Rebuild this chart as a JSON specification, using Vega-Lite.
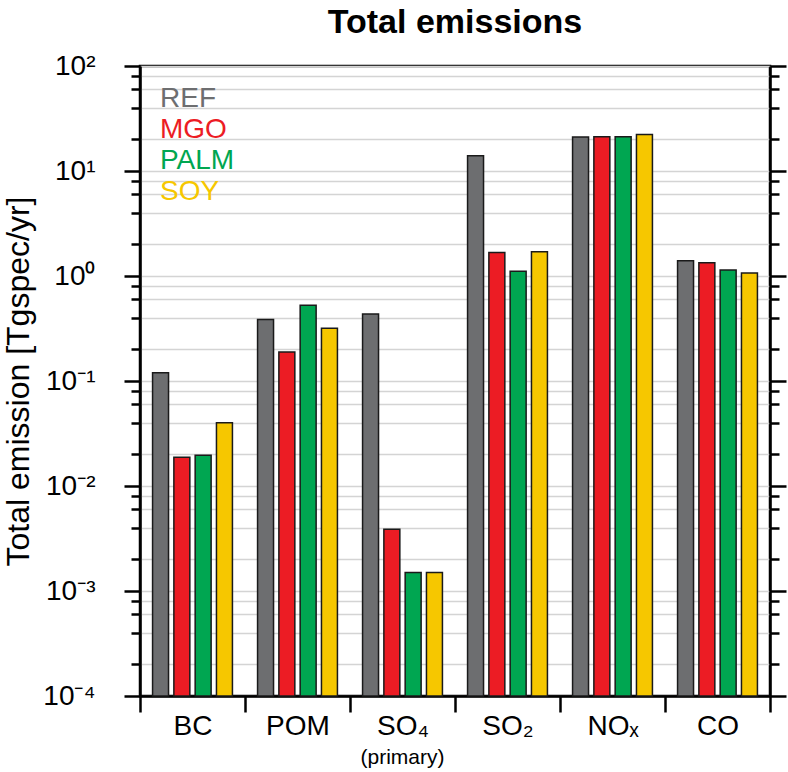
{
  "$schema": "https://vega.github.io/schema/vega-lite/v6.json",
  "width": 630,
  "height": 630,
  "autosize": {"type": "none"},
  "padding": {"left": 140, "top": 66, "right": 18, "bottom": 76},
  "background": "white",
  "config": {
    "font": "Liberation Sans",
    "view": {"stroke": "black", "strokeWidth": 2.5}
  },
  "title": {
    "text": "Total emissions",
    "fontSize": 34,
    "fontWeight": "bold",
    "color": "black",
    "baseline": "alphabetic",
    "offset": -15,
    "frame": "group"
  },
  "data": {
    "values": [
      {"species": "BC", "scenario": "REF", "value": 0.12},
      {"species": "BC", "scenario": "MGO", "value": 0.0188},
      {"species": "BC", "scenario": "PALM", "value": 0.0196},
      {"species": "BC", "scenario": "SOY", "value": 0.040},
      {"species": "POM", "scenario": "REF", "value": 0.386},
      {"species": "POM", "scenario": "MGO", "value": 0.189},
      {"species": "POM", "scenario": "PALM", "value": 0.526},
      {"species": "POM", "scenario": "SOY", "value": 0.318},
      {"species": "SO₄", "scenario": "REF", "value": 0.435},
      {"species": "SO₄", "scenario": "MGO", "value": 0.00387},
      {"species": "SO₄", "scenario": "PALM", "value": 0.0015},
      {"species": "SO₄", "scenario": "SOY", "value": 0.0015},
      {"species": "SO₂", "scenario": "REF", "value": 14.0},
      {"species": "SO₂", "scenario": "MGO", "value": 1.67},
      {"species": "SO₂", "scenario": "PALM", "value": 1.11},
      {"species": "SO₂", "scenario": "SOY", "value": 1.70},
      {"species": "NOₓ", "scenario": "REF", "value": 21.1},
      {"species": "NOₓ", "scenario": "MGO", "value": 21.2},
      {"species": "NOₓ", "scenario": "PALM", "value": 21.2},
      {"species": "NOₓ", "scenario": "SOY", "value": 22.3},
      {"species": "CO", "scenario": "REF", "value": 1.40},
      {"species": "CO", "scenario": "MGO", "value": 1.34},
      {"species": "CO", "scenario": "PALM", "value": 1.14},
      {"species": "CO", "scenario": "SOY", "value": 1.07}
    ]
  },
  "layer": [
    {
      "mark": {"type": "bar", "stroke": "#1a1a1a", "strokeWidth": 1.5},
      "encoding": {
        "x": {
          "field": "species",
          "type": "nominal",
          "sort": ["BC", "POM", "SO₄", "SO₂", "NOₓ", "CO"],
          "scale": {"paddingInner": 0, "paddingOuter": 0},
          "axis": {
            "title": null,
            "labelAngle": 0,
            "labelFontSize": 28,
            "labelColor": "black",
            "labelPadding": 0,
            "tickBand": "extent",
            "tickSize": 16,
            "tickWidth": 2.5,
            "tickColor": "black",
            "domainColor": "black",
            "domainWidth": 2.5,
            "grid": false
          }
        },
        "xOffset": {
          "field": "scenario",
          "type": "nominal",
          "sort": ["REF", "MGO", "PALM", "SOY"],
          "scale": {"paddingInner": 0.25, "paddingOuter": 0.59}
        },
        "color": {
          "field": "scenario",
          "type": "nominal",
          "sort": ["REF", "MGO", "PALM", "SOY"],
          "scale": {
            "domain": ["REF", "MGO", "PALM", "SOY"],
            "range": ["#6d6e70", "#ec1c24", "#00a651", "#f6c700"]
          },
          "legend": {
            "title": null,
            "orient": "none",
            "legendX": -8,
            "legendY": 19,
            "symbolSize": 0,
            "symbolStrokeWidth": 0,
            "symbolOpacity": 0,
            "labelOffset": 0,
            "labelFontSize": 28,
            "rowPadding": 3,
            "encoding": {
              "labels": {
                "fill": {"value": {"expr": "scale('color', datum.value)"}}
              }
            }
          }
        },
        "y": {
          "field": "value",
          "type": "quantitative",
          "scale": {"type": "log", "domain": [0.0001, 100], "nice": false},
          "axis": {
            "title": "Total emission [Tgspec/yr]",
            "titleFontSize": 32,
            "titleFontWeight": "normal",
            "titleColor": "black",
            "titleBaseline": "alphabetic",
            "titleX": -112,
            "values": [0.0001, 0.0002, 0.0004, 0.0006, 0.0008, 0.001, 0.002, 0.004, 0.006, 0.008, 0.01, 0.02, 0.04, 0.06, 0.08, 0.1, 0.2, 0.4, 0.6, 0.8, 1, 2, 4, 6, 8, 10, 20, 40, 60, 80, 100],
            "labelExpr": "abs(log(datum.value)/LN10 - round(log(datum.value)/LN10)) > 0.01 ? '' : '10' + ['⁻⁴','⁻³','⁻²','⁻¹','⁰','¹','²'][round(log(datum.value)/LN10) + 4]",
            "labelFontSize": 28,
            "labelColor": "black",
            "labelPadding": 29,
            "labelOverlap": false,
            "labelFlush": false,
            "tickSize": {"condition": {"test": "abs(log(datum.value)/LN10 - round(log(datum.value)/LN10)) < 0.01", "value": 16}, "value": 9},
            "tickWidth": 2.5,
            "tickColor": "black",
            "domainColor": "black",
            "domainWidth": 2.5,
            "grid": true,
            "gridColor": "#d4d4d4",
            "gridWidth": 1.5
          }
        },
        "y2": {"datum": 0.0001}
      }
    },
    {
      "mark": {"type": "tick", "opacity": 0},
      "encoding": {
        "x": {
          "field": "species",
          "type": "nominal",
          "sort": ["BC", "POM", "SO₄", "SO₂", "NOₓ", "CO"],
          "scale": {"paddingInner": 0, "paddingOuter": 0},
          "axis": {
            "orient": "bottom",
            "offset": 50,
            "title": null,
            "labelAngle": 0,
            "labelFontSize": 21,
            "labelColor": "black",
            "labelPadding": 0,
            "labelExpr": "datum.value === 'SO₄' ? '(primary)' : ''",
            "domain": false,
            "ticks": false,
            "grid": false
          }
        },
        "y": {
          "field": "value",
          "type": "quantitative",
          "axis": {
            "orient": "right",
            "title": null,
            "labels": false,
            "values": [0.0001, 0.0002, 0.0004, 0.0006, 0.0008, 0.001, 0.002, 0.004, 0.006, 0.008, 0.01, 0.02, 0.04, 0.06, 0.08, 0.1, 0.2, 0.4, 0.6, 0.8, 1, 2, 4, 6, 8, 10, 20, 40, 60, 80, 100],
            "tickSize": {"condition": {"test": "abs(log(datum.value)/LN10 - round(log(datum.value)/LN10)) < 0.01", "value": 16}, "value": 9},
            "tickWidth": 2.5,
            "tickColor": "black",
            "domainColor": "black",
            "domainWidth": 2.5,
            "grid": false
          }
        }
      }
    }
  ],
  "resolve": {"axis": {"y": "independent", "x": "independent"}}
}
